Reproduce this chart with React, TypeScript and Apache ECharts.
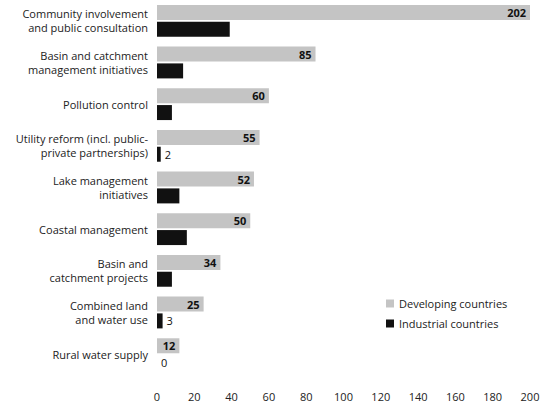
import React, { useEffect, useRef } from "react";
import * as echarts from "echarts";

const categories = [
  "Community involvement\nand public consultation",
  "Basin and catchment\nmanagement initiatives",
  "Pollution control",
  "Utility reform (incl. public-\nprivate partnerships)",
  "Lake management\ninitiatives",
  "Coastal management",
  "Basin and\ncatchment projects",
  "Combined land\nand water use",
  "Rural water supply",
];
const developing = [202, 85, 60, 55, 52, 50, 34, 25, 12];
const industrial = [39, 14, 8, 2, 12, 16, 8, 3, 0];
const industrialLabelled = [false, false, false, true, false, false, false, true, true];
const seriesNames = ["Developing countries", "Industrial countries"];

const FONT = "'Open Sans', 'Noto Sans', sans-serif";

export default function App() {
  const ref = useRef<HTMLDivElement>(null);
  useEffect(() => {
    if (!ref.current) return;
    const chart = echarts.init(ref.current, null, { renderer: "svg" });
    chart.setOption({
      animation: false,
      backgroundColor: "#ffffff",
      textStyle: { fontFamily: FONT },
      legend: {
        orient: "vertical",
        left: 381,
        top: 293,
        itemWidth: 8,
        itemHeight: 8,
        itemGap: 9,
        icon: "rect",
        textStyle: { fontFamily: FONT, fontSize: 11, color: "#222" },
        data: seriesNames,
      },
      grid: { left: 157, right: 15, top: -5, bottom: 34, containLabel: false },
      xAxis: {
        type: "value",
        min: 0,
        max: 200,
        interval: 20,
        axisLine: { show: false },
        axisTick: { show: false },
        splitLine: { show: false },
        axisLabel: { fontFamily: FONT, fontSize: 11, color: "#222", margin: 16 },
      },
      yAxis: {
        type: "category",
        inverse: true,
        data: categories,
        axisLine: { show: false },
        axisTick: { show: false },
        axisLabel: {
          fontFamily: FONT,
          fontSize: 11,
          color: "#222",
          margin: 9,
          lineHeight: 14,
          align: "right",
        },
      },
      series: [
        {
          name: seriesNames[0],
          type: "bar",
          data: developing,
          barWidth: 15,
          barGap: "12%",
          itemStyle: { color: "#c4c4c4" },
          label: {
            show: true,
            position: "insideRight",
            distance: 4,
            fontFamily: FONT,
            fontSize: 11,
            fontWeight: "bold",
            color: "#111",
          },
        },
        {
          name: seriesNames[1],
          type: "bar",
          data: industrial.map((v, i) => ({
            value: v,
            label: { show: industrialLabelled[i] },
          })),
          barWidth: 15,
          itemStyle: { color: "#111111" },
          label: {
            show: false,
            position: "right",
            distance: 4,
            fontFamily: FONT,
            fontSize: 11,
            color: "#111",
          },
        },
      ],
    });
    return () => chart.dispose();
  }, []);
  return <div ref={ref} style={{ width: 545, height: 409, position: "absolute", left: 0, top: 0 }} />;
}
